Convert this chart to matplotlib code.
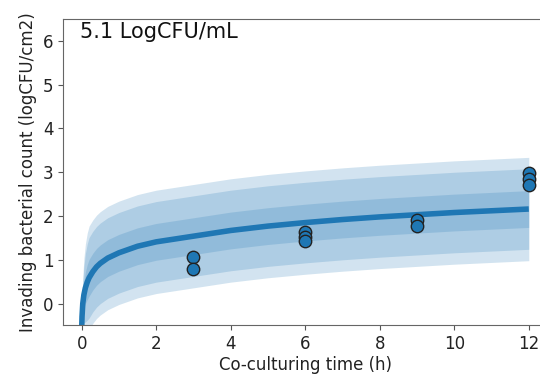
import matplotlib
matplotlib.use("Agg")
import matplotlib.pyplot as plt

# model prediction (time in h)
pred_time = [0, 0.01, 0.03, 0.06, 0.1, 0.15, 0.2, 0.3, 0.4, 0.5, 0.7, 1.0,
             1.5, 2, 3, 4, 5, 6, 7, 8, 9, 10, 11, 12]
pred_mean = [-0.6, -0.3, 0.0, 0.2, 0.36, 0.49, 0.59, 0.73, 0.84, 0.92, 1.04, 1.16,
             1.31, 1.41, 1.54, 1.67, 1.77, 1.85, 1.92, 1.98, 2.03, 2.08, 2.12, 2.16]

# credible bands (inner, middle, outer)
inner_hi = [-0.6, -0.17, 0.21, 0.49, 0.72, 0.89, 1.01, 1.15, 1.26, 1.34, 1.46, 1.58,
            1.73, 1.83, 1.96, 2.09, 2.19, 2.27, 2.34, 2.40, 2.45, 2.50, 2.54, 2.58]
inner_lo = [-0.6, -0.43, -0.21, -0.09, 0.0, 0.09, 0.17, 0.31, 0.42, 0.50, 0.62, 0.74,
            0.89, 0.99, 1.12, 1.25, 1.35, 1.43, 1.50, 1.56, 1.61, 1.66, 1.70, 1.74]
middle_hi = [-0.6, -0.02, 0.46, 0.84, 1.14, 1.36, 1.51, 1.65, 1.76, 1.84, 1.96, 2.08,
             2.23, 2.33, 2.46, 2.59, 2.69, 2.77, 2.84, 2.90, 2.95, 3.00, 3.04, 3.08]
middle_lo = [-0.6, -0.58, -0.46, -0.44, -0.42, -0.38, -0.33, -0.19, -0.08, 0.0, 0.12, 0.24,
             0.39, 0.49, 0.62, 0.75, 0.85, 0.93, 1.00, 1.06, 1.11, 1.16, 1.20, 1.24]
outer_hi = [-0.6, 0.05, 0.59, 1.03, 1.36, 1.61, 1.77, 1.91, 2.02, 2.10, 2.22, 2.34,
            2.49, 2.59, 2.72, 2.85, 2.95, 3.03, 3.10, 3.16, 3.21, 3.26, 3.30, 3.34]
outer_lo = [-0.6, -0.65, -0.59, -0.63, -0.64, -0.63, -0.59, -0.45, -0.34, -0.26, -0.14, -0.02,
            0.13, 0.23, 0.36, 0.49, 0.59, 0.67, 0.74, 0.80, 0.85, 0.90, 0.94, 0.98]

# observed counts
obs_time = [3, 3, 6, 6, 6, 9, 9, 12, 12, 12]
obs_count = [1.07, 0.78, 1.63, 1.52, 1.43, 1.90, 1.78, 2.99, 2.85, 2.70]

fig = plt.figure(figsize=(5.4, 3.74), dpi=100)
ax = fig.add_axes([0.1167, 0.1297, 0.897, 0.8195])

blue = "#1f77b4"
ax.fill_between(pred_time, outer_lo, outer_hi, color=blue, alpha=0.2, linewidth=0)
ax.fill_between(pred_time, middle_lo, middle_hi, color=blue, alpha=0.2, linewidth=0)
ax.fill_between(pred_time, inner_lo, inner_hi, color=blue, alpha=0.2, linewidth=0)
ax.plot(pred_time, pred_mean, color=blue, lw=4, solid_capstyle="butt", solid_joinstyle="round")
ax.scatter(obs_time, obs_count, s=80, color=blue, edgecolor="#222222", linewidth=1, zorder=3)

ax.set_xlim(-0.5, 12.5)
ax.set_ylim(-0.5, 6.5)
ax.set_xticks([0, 2, 4, 6, 8, 10, 12])
ax.set_yticks([0, 1, 2, 3, 4, 5, 6])
ax.tick_params(labelsize=12, color="#555555", labelcolor="#222222")
for s in ax.spines.values():
    s.set_color("#666666")
ax.spines["right"].set_visible(False)

ax.set_xlabel("Co-culturing time (h)", fontsize=12, color="#222222", labelpad=2)
ax.set_ylabel("Invading bacterial count (logCFU/cm2)", fontsize=12, color="#222222", labelpad=4)
ax.text(0.035, 0.99, "5.1 LogCFU/mL", transform=ax.transAxes, fontsize=15,
        va="top", ha="left", color="#111111")

fig.savefig("out.png", dpi=100)
